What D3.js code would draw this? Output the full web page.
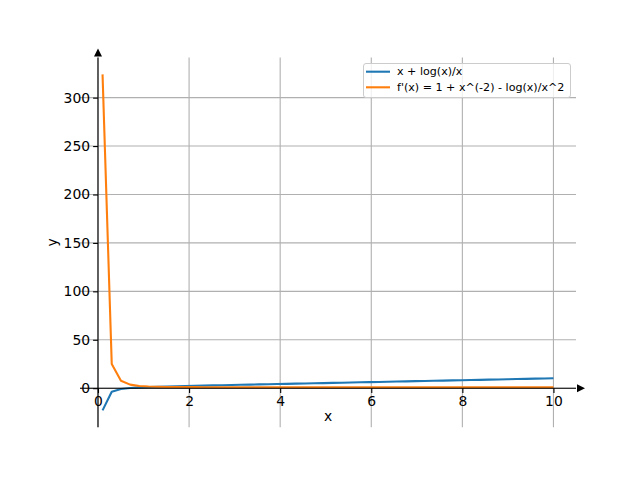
<!DOCTYPE html>
<html>
<head>
<meta charset="utf-8">
<script src="https://cdn.jsdelivr.net/npm/d3@7"></script>
<style>
  html, body { margin: 0; padding: 0; background: #fff; }
</style>
</head>
<body>
<script>
'use strict';

// sample points along x
const xs = [0.1, 0.302, 0.504, 0.706, 0.908, 1.110, 1.312, 1.514, 1.716, 1.918,
  2.120, 2.322, 2.524, 2.727, 2.929, 3.131, 3.333, 3.535, 3.737, 3.939,
  4.141, 4.343, 4.545, 4.747, 4.949, 5.151, 5.353, 5.555, 5.757, 5.959,
  6.161, 6.363, 6.565, 6.767, 6.969, 7.171, 7.373, 7.576, 7.778, 7.980,
  8.182, 8.384, 8.586, 8.788, 8.990, 9.192, 9.394, 9.596, 9.798, 10.0];

// x + log(x)/x
const fVals = [-22.93, -3.66, -0.855, 0.213, 0.802, 1.204, 1.519, 1.788, 2.031, 2.258,
  2.475, 2.685, 2.891, 3.094, 3.295, 3.495, 3.694, 3.892, 4.090, 4.287,
  4.484, 4.681, 4.878, 5.075, 5.272, 5.469, 5.666, 5.864, 6.061, 6.259,
  6.456, 6.654, 6.852, 7.050, 7.248, 7.446, 7.644, 7.843, 8.041, 8.240,
  8.439, 8.637, 8.836, 9.035, 9.234, 9.433, 9.632, 9.832, 10.031, 10.230];

// f'(x) = 1 + x^(-2) - log(x)/x^2
const dVals = [324, 25.08, 7.63, 3.70, 2.33, 1.73, 1.42, 1.26, 1.16, 1.09,
  1.06, 1.03, 1.01, 1.00, 0.99, 0.986, 0.982, 0.979, 0.977, 0.976,
  0.975, 0.975, 0.975, 0.975, 0.976, 0.976, 0.976, 0.977, 0.977, 0.978,
  0.978, 0.979, 0.980, 0.980, 0.981, 0.981, 0.982, 0.982, 0.983, 0.983,
  0.984, 0.984, 0.984, 0.985, 0.985, 0.986, 0.986, 0.986, 0.987, 0.987];

const seriesNames = ['x + log(x)/x', "f'(x) = 1 + x^(-2) - log(x)/x^2"];
const xTicks = [0, 2, 4, 6, 8, 10];
const yTicks = [0, 50, 100, 150, 200, 250, 300];

const W = 640, H = 480;
const FONT = 'DejaVu Sans, Liberation Sans, sans-serif';
const BLUE = '#1f77b4', ORANGE = '#ff7f0e', GRID = '#b0b0b0';
const box = { left: 80, right: 576, top: 57.6, bottom: 427.2 };

// matplotlib-style 5% margins
function padded(lo, hi) { const m = (hi - lo) * 0.05; return [lo - m, hi + m]; }
const xDom = padded(d3.min(xs), d3.max(xs));
const yDom = padded(d3.min(fVals.concat(dVals)), d3.max(fVals.concat(dVals)));

const x = d3.scaleLinear().domain(xDom).range([box.left, box.right]);
const y = d3.scaleLinear().domain(yDom).range([box.bottom, box.top]);

const svg = d3.select('body').append('svg')
  .attr('width', W).attr('height', H)
  .attr('viewBox', `0 0 ${W} ${H}`);
svg.append('rect').attr('width', W).attr('height', H).attr('fill', '#fff');

svg.append('defs').append('clipPath').attr('id', 'plot')
  .append('rect')
  .attr('x', box.left).attr('y', box.top)
  .attr('width', box.right - box.left).attr('height', box.bottom - box.top);

// grid
const grid = svg.append('g');
grid.selectAll('.gx').data(xTicks).join('line')
  .attr('x1', d => x(d)).attr('x2', d => x(d))
  .attr('y1', box.top).attr('y2', box.bottom)
  .attr('stroke', GRID).attr('stroke-width', 1.1);
grid.selectAll('.gy').data(yTicks).join('line')
  .attr('y1', d => y(d)).attr('y2', d => y(d))
  .attr('x1', box.left).attr('x2', box.right)
  .attr('stroke', GRID).attr('stroke-width', 1.1);

// curves
const line = d3.line().x(d => x(d[0])).y(d => y(d[1]));
const plot = svg.append('g').attr('clip-path', 'url(#plot)');
[[fVals, BLUE], [dVals, ORANGE]].forEach(([vals, color]) => {
  plot.append('path')
    .attr('d', line(xs.map((v, i) => [v, vals[i]])))
    .attr('fill', 'none').attr('stroke', color)
    .attr('stroke-width', 2.1).attr('stroke-linejoin', 'round');
});

// axes through the origin
const x0 = x(0), y0 = y(0);
const xAxis = svg.append('g').attr('transform', `translate(0,${y0})`)
  .call(d3.axisBottom(x).tickValues(xTicks).tickFormat(d3.format('d'))
    .tickSize(4.9).tickPadding(3));
const yAxis = svg.append('g').attr('transform', `translate(${x0},0)`)
  .call(d3.axisLeft(y).tickValues(yTicks).tickFormat(d3.format('d'))
    .tickSize(4.9).tickPadding(3));

[xAxis, yAxis].forEach(g => {
  g.select('.domain').remove();
  g.selectAll('.tick line').attr('stroke', '#000').attr('stroke-width', 1.1);
  g.selectAll('.tick text').attr('font-family', FONT).attr('font-size', 13.9).attr('fill', '#000');
});

svg.append('line')
  .attr('x1', box.left).attr('x2', box.right).attr('y1', y0).attr('y2', y0)
  .attr('stroke', '#000').attr('stroke-width', 1.1);
svg.append('line')
  .attr('x1', x0).attr('x2', x0).attr('y1', box.top).attr('y2', box.bottom)
  .attr('stroke', '#000').attr('stroke-width', 1.1);

// arrow heads
svg.append('path')
  .attr('d', `M${box.right + 1},${y0 - 4} L${box.right + 9},${y0} L${box.right + 1},${y0 + 4} Z`)
  .attr('fill', '#000');
svg.append('path')
  .attr('d', `M${x0 - 4},${box.top - 1} L${x0},${box.top - 9} L${x0 + 4},${box.top - 1} Z`)
  .attr('fill', '#000');

// axis labels
svg.append('text')
  .attr('x', (box.left + box.right) / 2).attr('y', 421)
  .attr('text-anchor', 'middle')
  .attr('font-family', FONT).attr('font-size', 13.9)
  .text('x');
svg.append('text')
  .attr('transform', `translate(57,${(box.top + box.bottom) / 2}) rotate(-90)`)
  .attr('text-anchor', 'middle')
  .attr('font-family', FONT).attr('font-size', 13.9)
  .text('y');

// legend
const lg = svg.append('g');
lg.append('rect')
  .attr('x', 363.5).attr('y', 63.5).attr('width', 207).attr('height', 34)
  .attr('rx', 2.5)
  .attr('fill', '#fff').attr('fill-opacity', 0.8)
  .attr('stroke', '#cccccc').attr('stroke-width', 1);
seriesNames.forEach((name, i) => {
  const ly = 71.7 + i * 15.6;
  lg.append('line')
    .attr('x1', 366).attr('x2', 390).attr('y1', ly).attr('y2', ly)
    .attr('stroke', i === 0 ? BLUE : ORANGE).attr('stroke-width', 2.1);
  lg.append('text')
    .attr('x', 397).attr('y', ly)
    .attr('dominant-baseline', 'central')
    .attr('font-family', FONT).attr('font-size', 11.1)
    .text(name);
});
</script>
</body>
</html>
